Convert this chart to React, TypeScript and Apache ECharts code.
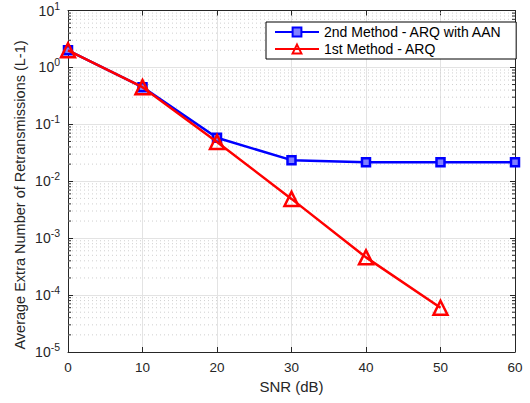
import React, { useEffect, useRef } from "react";
import * as echarts from "echarts";

const snr = [0, 10, 20, 30, 40, 50, 60];
const method2 = [2.0, 0.45, 0.058, 0.0235, 0.0215, 0.0215, 0.0215];
const method1SNR = [0, 10, 20, 30, 40, 50];
const method1 = [2.0, 0.45, 0.049, 0.0049, 0.00046, 0.00006];
const decades = [-5, -4, -3, -2, -1, 0];
const minorMultipliers = [2, 3, 4, 5, 6, 7, 8, 9];
const yTitle = "Average Extra Number of Retransmissions (L-1)";
const xTitle = "SNR (dB)";

const minorValues: number[][] = [];
decades.forEach((d) => {
  minorMultipliers.forEach((m) => minorValues.push([0, m * Math.pow(10, d)]));
});

export default function App() {
  const ref = useRef<HTMLDivElement>(null);
  useEffect(() => {
    if (!ref.current) return;
    const chart = echarts.init(ref.current, null, { renderer: "svg" });
    const font = "Liberation Sans, Arial, sans-serif";
    const textColor = "#262626";
    chart.setOption({
      animation: false,
      backgroundColor: "#fff",
      grid: { left: 68, right: 15, top: 10, bottom: 51 },
      graphic: [
        {
          type: "text",
          x: 20,
          y: 195,
          rotation: Math.PI / 2,
          style: {
            text: yTitle,
            fontFamily: font,
            fontSize: 14.5,
            fill: textColor,
            align: "center",
            verticalAlign: "middle",
          },
        },
      ],
      legend: {
        left: 266,
        top: 22,
        orient: "vertical",
        backgroundColor: "#fff",
        borderColor: "#000",
        borderWidth: 1,
        borderRadius: 0,
        padding: [3, 14, 3, 8],
        itemGap: 3,
        itemWidth: 44,
        itemHeight: 11,
        textStyle: { fontFamily: font, fontSize: 14, color: "#000" },
        data: ["2nd Method - ARQ with AAN", "1st Method - ARQ"],
      },
      xAxis: [
        {
          type: "value",
          min: 0,
          max: 60,
          interval: 10,
          name: xTitle,
          nameLocation: "middle",
          nameGap: 26,
          nameTextStyle: { fontFamily: font, fontSize: 15, color: textColor },
          axisLine: { onZero: false, lineStyle: { color: "#262626", width: 1 } },
          axisTick: { inside: true, length: 5, lineStyle: { color: "#262626" } },
          axisLabel: { fontFamily: font, fontSize: 13.5, color: textColor, margin: 8 },
          splitLine: { show: true, lineStyle: { color: "#e3e3e3", width: 1 } },
        },
        {
          type: "value",
          position: "top",
          min: 0,
          max: 60,
          interval: 10,
          axisLine: { show: true, onZero: false, lineStyle: { color: "#262626", width: 1 } },
          axisTick: { show: true, inside: true, length: 5, lineStyle: { color: "#262626" } },
          axisLabel: { show: false },
          splitLine: { show: false },
        },
      ],
      yAxis: [
        {
          type: "log",
          logBase: 10,
          min: 1e-5,
          max: 10,
          axisLine: { onZero: false, lineStyle: { color: "#262626", width: 1 } },
          axisTick: { inside: true, length: 5, lineStyle: { color: "#262626" } },
          axisLabel: {
            fontFamily: font,
            fontSize: 14,
            color: textColor,
            margin: 8,
            formatter: (v: number) => {
              const e = Math.round(Math.log10(v));
              return "10{sup|" + e + "}";
            },
            rich: {
              sup: { fontSize: 10.5, verticalAlign: "bottom", padding: [0, 0, 10, 0], fontFamily: font, color: textColor },
            },
          },
          splitLine: { show: true, lineStyle: { color: "#e3e3e3", width: 1 } },
        },
        {
          type: "log",
          logBase: 10,
          min: 1e-5,
          max: 10,
          position: "right",
          axisLine: { show: true, onZero: false, lineStyle: { color: "#262626", width: 1 } },
          axisTick: { show: true, inside: true, length: 5, lineStyle: { color: "#262626" } },
          axisLabel: { show: false },
          splitLine: { show: false },
        },
      ],
      series: [
        {
          type: "custom",
          silent: true,
          xAxisIndex: 0,
          yAxisIndex: 0,
          z: 1,
          data: minorValues,
          renderItem: (params: any, api: any) => {
            const cs = params.coordSys;
            const y = api.coord([0, api.value(1)])[1];
            const x0 = cs.x;
            const x1 = cs.x + cs.width;
            return {
              type: "group",
              children: [
                {
                  type: "line",
                  shape: { x1: x0, y1: y, x2: x1, y2: y },
                  style: { stroke: "#cfcfcf", lineWidth: 1, lineDash: [1, 3] },
                },
                {
                  type: "line",
                  shape: { x1: x0, y1: y, x2: x0 + 3, y2: y },
                  style: { stroke: "#262626", lineWidth: 1 },
                },
                {
                  type: "line",
                  shape: { x1: x1 - 3, y1: y, x2: x1, y2: y },
                  style: { stroke: "#262626", lineWidth: 1 },
                },
              ],
            };
          },
        },
        {
          name: "2nd Method - ARQ with AAN",
          type: "line",
          data: snr.map((x, i) => [x, method2[i]]),
          symbol: "rect",
          symbolSize: 8,
          z: 3,
          lineStyle: { color: "#0000ff", width: 2.5 },
          itemStyle: { color: "#8080ff", borderColor: "#0000ff", borderWidth: 2.5 },
        },
        {
          name: "1st Method - ARQ",
          type: "line",
          data: method1SNR.map((x, i) => [x, method1[i]]),
          symbol: "triangle",
          symbolSize: 14,
          z: 4,
          lineStyle: { color: "#ff0000", width: 2.5 },
          itemStyle: { color: "rgba(255,255,255,0)", borderColor: "#ff0000", borderWidth: 2.5 },
        },
      ],
    });
    return () => chart.dispose();
  }, []);
  return <div ref={ref} style={{ width: 530, height: 403, position: "absolute", left: 0, top: 0 }} />;
}
